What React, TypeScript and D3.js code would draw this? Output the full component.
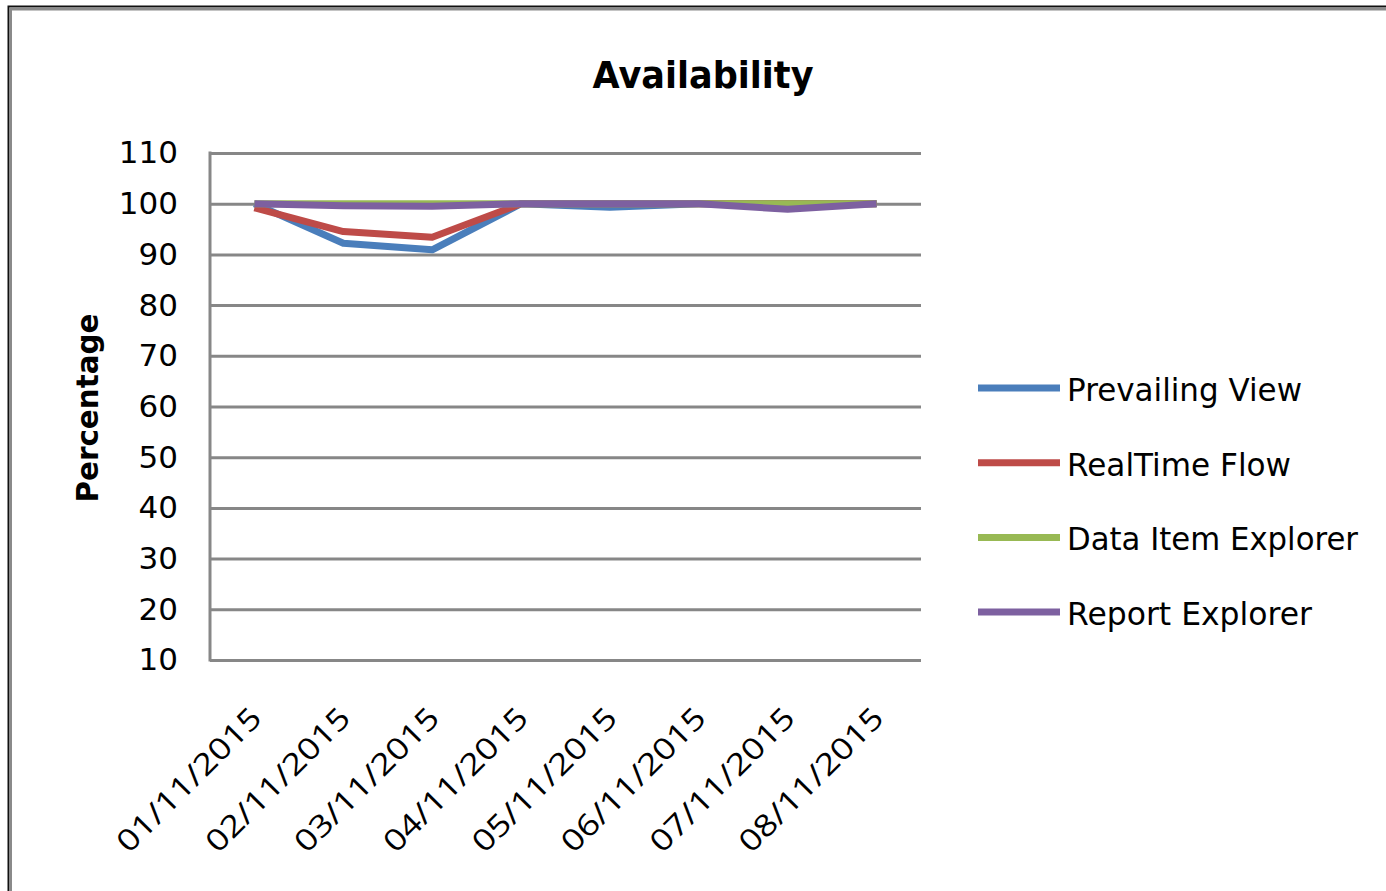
import { useEffect, useRef } from "react";
import * as d3 from "d3";

const dates = ["01/11/2015", "02/11/2015", "03/11/2015", "04/11/2015", "05/11/2015", "06/11/2015", "07/11/2015", "08/11/2015"];
const prevailingView = [100, 92.2, 90.9, 100, 99.3, 100, 100, 100];
const realTimeFlow = [99.2, 94.5, 93.4, 100, 100, 100, 100, 100];
const dataItemExplorer = [100, 100, 100, 100, 100, 100, 100, 100];
const reportExplorer = [100, 99.6, 99.5, 100, 100, 100, 98.9, 100];
const seriesNames = ["Prevailing View", "RealTime Flow", "Data Item Explorer", "Report Explorer"];
const yTicks = [10, 20, 30, 40, 50, 60, 70, 80, 90, 100, 110];

const colors = ["#4a7ebb", "#be4b48", "#98b954", "#7d60a0"];
const legendWidths = [235, 224, 291, 245];

const width = 1386;
const height = 891;
const marginLeft = 210;
const marginRight = 465;
const marginTop = 153;
const marginBottom = 231;

const App = () => {
  const gy = useRef<SVGGElement>(null);

  const x = d3.scaleBand().domain(dates).range([marginLeft, width - marginRight]);
  const y = d3.scaleLinear().domain([10, 110]).range([height - marginBottom, marginTop]);
  const line = d3.line<number>().x((d, i) => x(dates[i])! + x.bandwidth() / 2).y((d) => y(d));
  const series = [prevailingView, realTimeFlow, dataItemExplorer, reportExplorer];

  useEffect(() => {
    const g = d3.select(gy.current);
    g.call(d3.axisLeft(y).tickValues(yTicks).tickSize(-(width - marginRight - marginLeft)).tickPadding(32).tickFormat(d3.format("d")));
    g.select(".domain").remove();
    g.selectAll(".tick line").attr("stroke", "#878787").attr("stroke-width", 3);
    g.selectAll(".tick text").attr("fill", "#000").style("font-family", "DejaVu Sans").style("font-size", "31px");
  }, [y]);

  return (
    <svg width={width} height={height} style={{ position: "absolute", left: 0, top: 0, background: "#fff" }}>
      <path d={`M8.5,${height} V6.5 H${width}`} fill="none" stroke="#111" strokeWidth={2} />
      <path d={`M10.5,${height} V9 H${width}`} fill="none" stroke="#8a8a8a" strokeWidth={3} />

      <text x={703} y={88} textAnchor="middle" textLength={221} lengthAdjust="spacingAndGlyphs"
        style={{ fontFamily: "DejaVu Sans", fontWeight: "bold", fontSize: "38px" }}>Availability</text>

      <g ref={gy} transform={`translate(${marginLeft},0)`} />
      <line x1={marginLeft} x2={marginLeft} y1={marginTop - 1.5} y2={height - marginBottom + 1.5} stroke="#878787" strokeWidth={3} />

      <text transform={`translate(98,408) rotate(-90)`} textAnchor="middle" textLength={189} lengthAdjust="spacingAndGlyphs"
        style={{ fontFamily: "DejaVu Sans", fontWeight: "bold", fontSize: "31px" }}>Percentage</text>

      {dates.map((d) => (
        <text key={d} transform={`translate(${x(d)! + x.bandwidth() / 2 + 9},${height - marginBottom + 60}) rotate(-45)`}
          textAnchor="end" textLength={190} lengthAdjust="spacingAndGlyphs"
          style={{ fontFamily: "Open Sans", fontSize: "30px" }} fill="#000">{d}</text>
      ))}

      <g fill="none" strokeWidth={7} strokeLinejoin="round">
        {series.map((s, i) => (<path key={seriesNames[i]} d={line(s)!} stroke={colors[i]} />))}
      </g>

      {seriesNames.map((name, i) => {
        const ly = 388 + i * 74.7;
        return (
          <g key={name}>
            <line x1={978} x2={1060} y1={ly} y2={ly} stroke={colors[i]} strokeWidth={7} />
            <text x={1067} y={ly + 13} textLength={legendWidths[i]} lengthAdjust="spacingAndGlyphs"
              style={{ fontFamily: "DejaVu Sans", fontSize: "32px" }} fill="#000">{name}</text>
          </g>
        );
      })}
    </svg>
  );
};

export default App;
